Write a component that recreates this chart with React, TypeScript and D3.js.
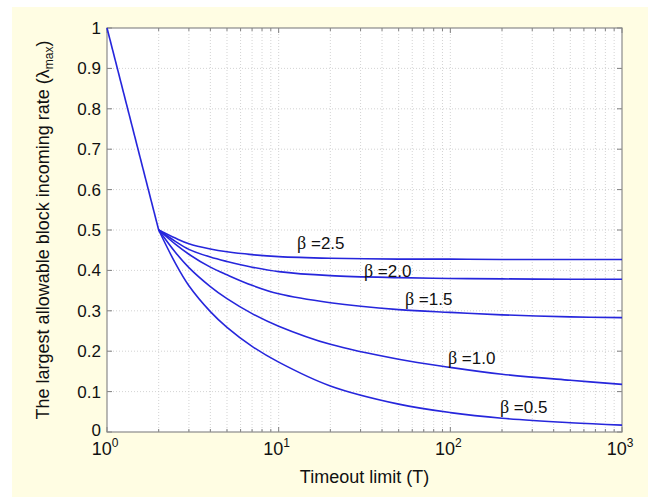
import React from "react";
import * as d3 from "d3";

const T = [2, 2.5, 3, 4, 5, 7, 10, 20, 50, 100, 200, 500, 1000];
const beta25 = [0.5, 0.48, 0.466, 0.453, 0.446, 0.439, 0.434, 0.43, 0.428, 0.428, 0.427, 0.427, 0.427];
const beta20 = [0.5, 0.472, 0.452, 0.433, 0.422, 0.408, 0.397, 0.387, 0.382, 0.38, 0.379, 0.378, 0.378];
const beta15 = [0.5, 0.465, 0.44, 0.408, 0.389, 0.363, 0.342, 0.32, 0.303, 0.296, 0.29, 0.285, 0.283];
const beta10 = [0.5, 0.445, 0.407, 0.36, 0.33, 0.293, 0.262, 0.217, 0.18, 0.16, 0.143, 0.128, 0.118];
const beta05 = [0.5, 0.418, 0.362, 0.298, 0.259, 0.212, 0.173, 0.114, 0.069, 0.048, 0.034, 0.023, 0.017];
const startT = [1, 2];
const startV = [1, 0.5];

const seriesNames = ["β =2.5", "β =2.0", "β =1.5", "β =1.0", "β =0.5"];
const seriesValues = [beta25, beta20, beta15, beta10, beta05];
// label anchors in data coordinates (T, value)
const labelT = [12.8, 31.4, 54.4, 96.8, 194.5];
const labelV = [0.453, 0.384, 0.314, 0.168, 0.047];

const yTicks = [0, 0.1, 0.2, 0.3, 0.4, 0.5, 0.6, 0.7, 0.8, 0.9, 1];
const yTickLabels = ["0", "0.1", "0.2", "0.3", "0.4", "0.5", "0.6", "0.7", "0.8", "0.9", "1"];
const xMajor = [1, 10, 100, 1000];
const xExp = ["0", "1", "2", "3"];

const W = 648;
const H = 498;
const L = 107, R = 622, TOP = 28, BOT = 432;
const LINE = "#2626dc";
const FONT = "Arial, 'Liberation Sans', Helvetica, sans-serif";

export default function App() {
  const x = d3.scaleLog().domain([1, 1000]).range([L, R]);
  const y = d3.scaleLinear().domain([0, 1]).range([BOT, TOP]);

  const xMinor: number[] = [];
  for (let k = 0; k < 3; k++) for (let m = 2; m <= 9; m++) xMinor.push(m * Math.pow(10, k));

  const curve = d3
    .line<number>()
    .x((_, i) => x(T[i]))
    .y((d) => y(d))
    .curve(d3.curveCatmullRom.alpha(0.5));
  const seg = d3
    .line<number>()
    .x((_, i) => x(startT[i]))
    .y((d) => y(d));

  return (
    <svg width={W} height={H} style={{ position: "absolute", left: 0, top: 0, display: "block" }}>
      <rect x={0} y={0} width={W} height={H} fill="#ffffff" />
      <rect x={12} y={7} width={W - 12} height={490} fill="#fffde3" />
      <rect x={L} y={TOP} width={R - L} height={BOT - TOP} fill="#ffffff" />
      {/* grid */}
      <g stroke="#c8c8c8" strokeWidth={0.8} strokeDasharray="1,2" fill="none">
        {yTicks.slice(1, -1).map((v) => (
          <line key={"gy" + v} x1={L} x2={R} y1={y(v)} y2={y(v)} />
        ))}
        {xMinor.concat([10, 100]).map((v) => (
          <line key={"gx" + v} x1={x(v)} x2={x(v)} y1={TOP} y2={BOT} />
        ))}
      </g>
      {/* ticks */}
      <g stroke="#808080" strokeWidth={1}>
        {yTicks.map((v) => (
          <g key={"ty" + v}>
            <line x1={L} x2={L + 5} y1={y(v)} y2={y(v)} />
            <line x1={R} x2={R - 5} y1={y(v)} y2={y(v)} />
          </g>
        ))}
        {xMajor.map((v) => (
          <g key={"tx" + v}>
            <line x1={x(v)} x2={x(v)} y1={BOT} y2={BOT - 5} />
            <line x1={x(v)} x2={x(v)} y1={TOP} y2={TOP + 5} />
          </g>
        ))}
        {xMinor.map((v) => (
          <g key={"tm" + v}>
            <line x1={x(v)} x2={x(v)} y1={BOT} y2={BOT - 3} />
            <line x1={x(v)} x2={x(v)} y1={TOP} y2={TOP + 3} />
          </g>
        ))}
      </g>
      <rect x={L} y={TOP} width={R - L} height={BOT - TOP} fill="none" stroke="#8a8a8a" strokeWidth={1.2} />
      {/* lines */}
      <g fill="none" stroke={LINE} strokeWidth={1.6} strokeLinejoin="round">
        <path d={seg(startV) || ""} />
        {seriesValues.map((s, i) => (
          <path key={"s" + i} d={curve(s) || ""} />
        ))}
      </g>
      {/* series labels */}
      <g fontFamily={FONT} fontSize={17} fill="#111">
        {seriesNames.map((n, i) => (
          <text key={"l" + i} x={x(labelT[i])} y={y(labelV[i])}>
            <tspan fontFamily="'Liberation Serif', 'DejaVu Serif', serif" fontSize={18}>
              {n.slice(0, 1)}
            </tspan>
            {n.slice(1)}
          </text>
        ))}
      </g>
      {/* y tick labels */}
      <g fontFamily={FONT} fontSize={17} fill="#111" textAnchor="end">
        {yTicks.map((v, i) => (
          <text key={"yl" + v} x={L - 6} y={y(v) + (v === 0 ? 4 : 6)}>
            {yTickLabels[i]}
          </text>
        ))}
      </g>
      {/* x tick labels */}
      <g fontFamily={FONT} fill="#111">
        {xMajor.map((v, i) => (
          <text key={"xl" + v} x={x(v) - 2} y={455} fontSize={18} textAnchor="middle">
            10
            <tspan fontSize={12} dy={-8}>
              {xExp[i]}
            </tspan>
          </text>
        ))}
      </g>
      {/* axis titles */}
      <text x={(L + R) / 2} y={483} fontFamily={FONT} fontSize={18} fill="#111" textAnchor="middle">
        Timeout limit (T)
      </text>
      <text
        transform={`translate(49,${(TOP + BOT) / 2}) rotate(-90)`}
        fontFamily={FONT}
        fontSize={18}
        fill="#111"
        textAnchor="middle"
      >
        The largest allowable block incoming rate (λ
        <tspan fontSize={12} dy={4}>
          max
        </tspan>
        <tspan dy={-4}>)</tspan>
      </text>
    </svg>
  );
}
